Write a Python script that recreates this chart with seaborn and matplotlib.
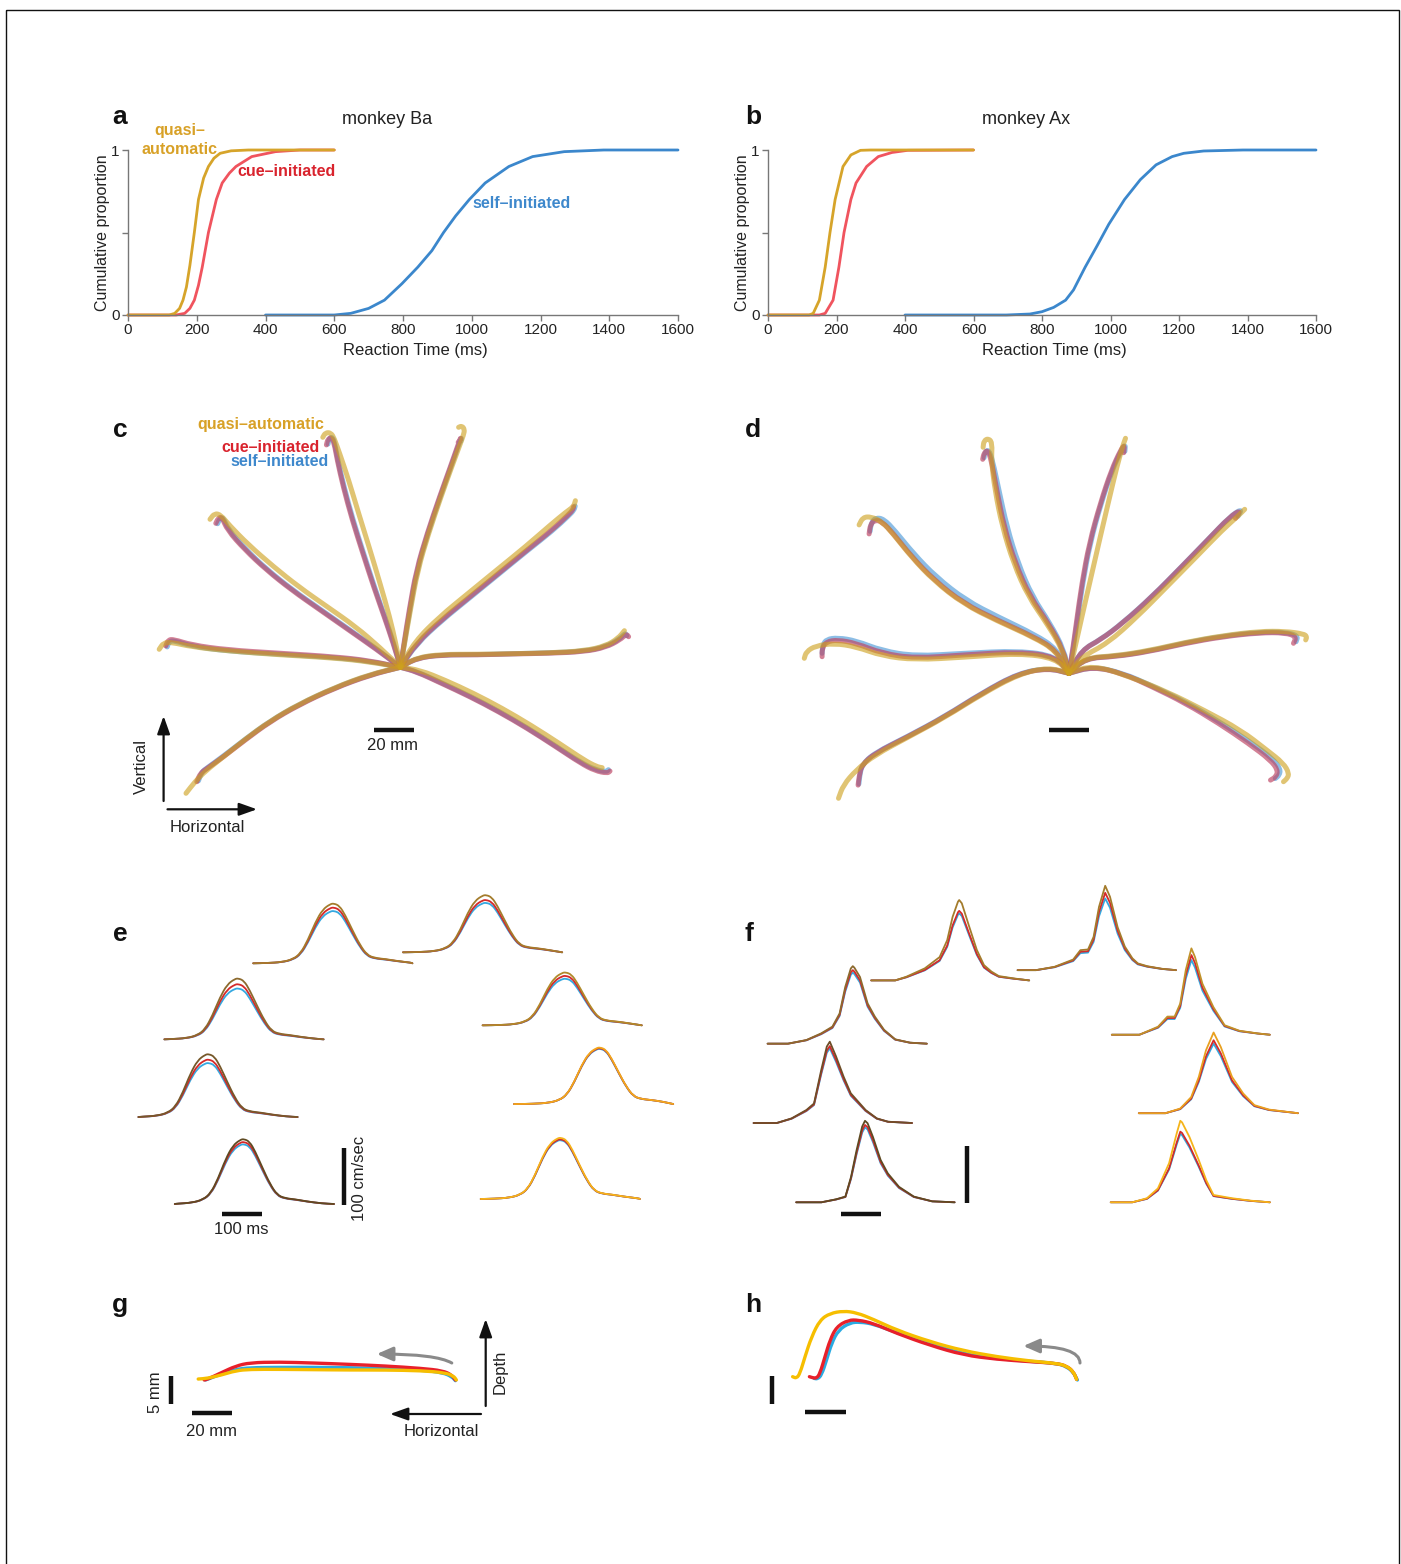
import numpy as np
import pandas as pd
import matplotlib
matplotlib.use("Agg")
import matplotlib.pyplot as plt
import seaborn as sns
from matplotlib.patches import Rectangle, PathPatch
from matplotlib.path import Path

sns.set_theme(style="ticks")
plt.rcParams['font.family'] = ['Liberation Sans', 'DejaVu Sans']

W, H = 1401, 1564
fig = plt.figure(figsize=(W / 100, H / 100), dpi=100)

# ------------------------------------------------------------------ colours
COL_Q, COL_C, COL_S = "#D6A42A", "#F0545E", "#3B87CC"          # RT curves
TXT_Q, TXT_C, TXT_S = "#D8A127", "#D9232D", "#3E88CC"          # labels
TRJ_Q, TRJ_C, TRJ_S = "#CDA01E", "#BE4664", "#5BA2DB"          # hand paths
VEL_C, VEL_S = "#D42A2A", "#35A8E0"
SIDE_Q, SIDE_C, SIDE_S = "#F6BE00", "#E8202A", "#2AAAE2"

# ------------------------------------------------- (a,b) reaction times (ms)
a_quasi_rt = [0, 120, 136, 150, 160, 170, 180, 193, 205, 220, 234, 250, 268, 300, 350, 600]
a_quasi_p = [0, 0, 0.01, 0.04, 0.09, 0.17, 0.30, 0.50, 0.70, 0.83, 0.90, 0.95, 0.98, 0.995, 1, 1]
a_cue_rt = [0, 140, 165, 180, 193, 205, 216, 234, 257, 274, 295, 314, 360, 429, 500, 600]
a_cue_p = [0, 0, 0.01, 0.04, 0.09, 0.18, 0.29, 0.50, 0.70, 0.80, 0.86, 0.90, 0.96, 0.99, 1, 1]
a_self_rt = [400, 600, 648, 700, 746, 797, 843, 884, 918, 953, 993, 1039, 1108, 1177, 1269, 1384, 1600]
a_self_p = [0, 0, 0.01, 0.04, 0.09, 0.19, 0.29, 0.39, 0.50, 0.60, 0.70, 0.80, 0.90, 0.96, 0.99, 1, 1]

b_quasi_rt = [0, 120, 132, 150, 167, 181, 196, 219, 242, 270, 300, 600]
b_quasi_p = [0, 0, 0.01, 0.09, 0.29, 0.50, 0.70, 0.90, 0.97, 0.998, 1, 1]
b_cue_rt = [0, 150, 167, 190, 207, 222, 242, 257, 288, 322, 362, 408, 600]
b_cue_p = [0, 0, 0.01, 0.09, 0.29, 0.50, 0.70, 0.80, 0.90, 0.96, 0.985, 0.998, 1]
b_self_rt = [400, 696, 765, 800, 834, 869, 892, 926, 961, 995, 1041, 1087, 1133, 1180, 1214, 1272, 1387, 1600]
b_self_p = [0, 0, 0.006, 0.02, 0.046, 0.09, 0.152, 0.29, 0.42, 0.55, 0.70, 0.82, 0.91, 0.96, 0.98, 0.994, 1, 1]

rt_ticks = list(range(0, 1601, 200))

# ------------------------------------------ (c,d) hand paths, top view (mm)
c_quasi = {
    "N1": [(0, 0), (-2.3, 12.0), (-5.4, 25.3), (-10.2, 42.0), (-15.2, 58.7), (-20.9, 77.0), (-25.9, 93.7), (-30.4, 107.0), (-33.1, 114.5), (-34.8, 117.3), (-37.5, 117.3), (-38.8, 115.0)],
    "N2": [(0, 0), (2.1, 12.0), (5.0, 28.7), (8.7, 48.7), (14.1, 67.0), (20.3, 85.3), (25.7, 100.3), (29.4, 110.3), (31.6, 116.2), (32.1, 119.0), (30.7, 120.7), (29.1, 120.0)],
    "NE": [(0, 0), (7.1, 12.8), (19.6, 25.3), (33.9, 37.0), (48.2, 48.7), (62.5, 60.3), (75.0, 71.2), (83.0, 77.8), (86.6, 80.3), (87.5, 83.3)],
    "E": [(0, 0), (8.0, 4.8), (20.5, 6.5), (38.4, 6.5), (56.2, 6.8), (74.1, 7.2), (91.9, 8.2), (102.7, 10.7), (108.9, 14.5), (112.0, 18.3)],
    "SE": [(0, 0), (9.8, -1.4), (22.3, -6.4), (36.6, -13.0), (50.9, -20.5), (65.2, -28.9), (79.4, -38.0), (91.9, -46.4), (98.2, -49.7), (100.9, -50.2)],
    "SW": [(0, 0), (-15.2, -3.5), (-33.1, -10.2), (-50.9, -18.5), (-65.2, -26.9), (-77.7, -36.0), (-88.4, -44.7), (-97.3, -51.7), (-102.7, -57.2), (-107.2, -63.0)],
    "W": [(0, 0), (-15.2, 2.7), (-33.1, 4.7), (-59.8, 6.2), (-86.6, 8.2), (-104.5, 10.3), (-114.3, 12.5), (-118.4, 12.3), (-120.6, 9.0)],
    "NW": [(0, 0), (-9.8, 9.5), (-22.3, 20.3), (-36.6, 30.3), (-50.9, 40.3), (-63.4, 50.3), (-75.9, 61.2), (-85.7, 71.2), (-89.8, 76.2), (-92.9, 77.0), (-95.2, 74.0)],
}
c_cue = {
    "N1": [(0, 0), (-3.6, 12.0), (-8.1, 25.3), (-13.4, 40.3), (-18.8, 57.0), (-24.1, 73.7), (-28.6, 90.3), (-31.6, 103.7), (-33.1, 112.0), (-34.5, 115.0), (-36.3, 114.0), (-37.0, 111.2)],
    "N2": [(0, 0), (1.8, 12.0), (4.4, 28.7), (8.0, 48.7), (13.4, 67.0), (19.6, 85.3), (25.0, 100.3), (28.5, 110.3), (30.3, 115.3), (30.0, 113.7), (28.9, 112.5)],
    "NE": [(0, 0), (8.0, 12.0), (20.5, 23.7), (34.8, 35.3), (49.1, 47.0), (63.4, 58.7), (75.9, 68.7), (83.9, 76.2), (86.2, 78.7), (86.6, 80.3)],
    "E": [(0, 0), (8.0, 4.5), (20.5, 6.2), (38.4, 6.2), (56.2, 6.7), (74.1, 7.0), (91.9, 7.8), (102.7, 10.0), (109.8, 13.7), (113.0, 16.7), (114.1, 15.3)],
    "SE": [(0, 0), (8.0, -2.2), (20.5, -8.0), (34.8, -14.7), (49.1, -22.2), (63.4, -30.5), (77.7, -39.7), (90.2, -48.0), (97.3, -51.7), (103.5, -53.0), (104.8, -51.9)],
    "SW": [(0, 0), (-15.2, -3.9), (-33.1, -10.5), (-50.9, -18.9), (-65.2, -27.2), (-77.7, -36.4), (-88.4, -44.7), (-97.3, -51.0), (-100.0, -53.0), (-101.8, -57.2)],
    "W": [(0, 0), (-15.2, 3.3), (-33.1, 5.3), (-59.8, 7.0), (-86.6, 8.7), (-104.5, 11.2), (-113.4, 14.0), (-116.1, 13.7), (-117.3, 10.7)],
    "NW": [(0, 0), (-11.6, 8.7), (-25.9, 18.7), (-40.2, 28.7), (-54.5, 38.7), (-67.0, 48.7), (-77.7, 58.7), (-86.6, 68.7), (-89.3, 75.3), (-91.1, 74.5), (-92.3, 72.0)],
}
c_self = {
    "N1": [(0, 0), (-3.3, 12.0), (-7.8, 25.3), (-13.0, 40.3), (-18.4, 57.0), (-23.7, 73.7), (-28.2, 90.3), (-31.3, 103.7), (-32.8, 112.0), (-34.0, 115.2), (-35.6, 114.4), (-36.2, 111.6)],
    "N2": [(0, 0), (2.0, 12.0), (4.7, 28.7), (8.3, 48.7), (13.7, 67.0), (19.9, 85.3), (25.3, 100.3), (28.8, 110.3), (30.6, 115.0), (30.4, 113.4), (29.4, 112.3)],
    "NE": [(0, 0), (8.2, 11.8), (20.7, 23.4), (35.0, 35.0), (49.3, 46.7), (63.6, 58.4), (76.2, 68.4), (84.3, 75.9), (86.8, 78.6), (87.4, 80.6)],
    "E": [(0, 0), (8.0, 4.6), (20.5, 6.3), (38.4, 6.3), (56.2, 6.8), (74.1, 7.2), (91.9, 8.0), (102.5, 10.3), (109.4, 14.0), (112.4, 17.2), (113.2, 15.8)],
    "SE": [(0, 0), (8.0, -2.0), (20.5, -7.7), (34.8, -14.4), (49.1, -21.9), (63.4, -30.2), (77.7, -39.4), (90.2, -47.6), (97.5, -51.2), (103.0, -52.3), (104.0, -51.2)],
    "SW": [(0, 0), (-15.2, -3.7), (-33.1, -10.3), (-50.9, -18.6), (-65.2, -26.9), (-77.7, -36.0), (-88.4, -44.3), (-96.8, -50.4), (-99.2, -52.2), (-101.0, -56.8)],
    "W": [(0, 0), (-15.2, 3.0), (-33.1, 4.9), (-59.8, 6.5), (-86.6, 8.1), (-104.5, 10.6), (-113.0, 13.3), (-115.6, 13.0), (-116.6, 10.2)],
    "NW": [(0, 0), (-11.4, 8.9), (-25.6, 18.9), (-39.9, 28.9), (-54.2, 38.9), (-66.7, 48.9), (-77.3, 58.9), (-86.1, 68.9), (-88.6, 75.0), (-90.3, 74.3), (-91.4, 71.8)],
}

d_quasi = {
    "NNW": [(0, 0), (-3.1, 11.7), (-11.1, 25.0), (-20.3, 38.3), (-27.7, 55.0), (-33.3, 73.3), (-37.0, 91.7), (-38.8, 106.7), (-38.3, 115.0), (-40.1, 117.5), (-42.5, 116.3), (-42.9, 113.0)],
    "NNE": [(0, 0), (2.8, 11.7), (6.5, 28.3), (11.1, 48.3), (15.7, 68.3), (20.4, 88.3), (24.0, 103.3), (26.8, 113.3), (28.3, 117.5)],
    "NE": [(0, 0), (6.5, 8.3), (19.4, 15.0), (34.2, 28.3), (49.0, 43.3), (63.8, 58.3), (76.8, 71.7), (84.2, 78.3), (87.9, 82.0)],
    "E": [(0, 0), (8.3, 7.8), (23.1, 8.7), (39.8, 11.3), (58.3, 15.5), (76.8, 18.8), (95.3, 21.0), (108.2, 21.0), (117.5, 19.7), (119.0, 18.3), (118.4, 16.7)],
    "SE": [(0, 0), (12.0, 4.2), (30.5, -1.7), (49.0, -9.2), (67.5, -18.4), (86.0, -28.4), (99.0, -38.4), (107.3, -45.0), (110.1, -50.0), (109.2, -52.5), (107.3, -54.2)],
    "SW": [(0, 0), (-10.2, 3.0), (-25.0, -0.4), (-43.5, -10.4), (-62.0, -22.0), (-80.5, -32.0), (-97.1, -40.9), (-106.4, -48.4), (-112.8, -55.9), (-115.2, -62.5)],
    "W": [(0, 0), (-6.5, 7.5), (-25.0, 10.0), (-52.7, 8.0), (-76.8, 6.7), (-93.4, 8.7), (-106.4, 13.3), (-117.5, 15.0), (-126.7, 13.7), (-131.3, 10.8), (-132.3, 7.5)],
    "NW": [(0, 0), (-6.5, 11.3), (-17.6, 18.0), (-36.1, 26.3), (-52.7, 34.7), (-67.5, 46.3), (-78.6, 58.0), (-87.9, 69.7), (-93.4, 75.8), (-98.9, 78.3), (-103.0, 78.0), (-104.9, 74.2)],
}
d_cue = {
    "NNW": [(0, 0), (-2.8, 11.7), (-10.2, 25.0), (-19.4, 38.3), (-26.8, 55.0), (-32.4, 73.3), (-36.1, 91.7), (-38.8, 106.7), (-40.7, 111.7), (-42.5, 110.0), (-43.1, 107.0)],
    "NNE": [(0, 0), (1.9, 11.7), (3.7, 25.0), (6.5, 45.0), (10.2, 65.0), (15.7, 85.0), (21.3, 101.7), (25.9, 111.7), (27.8, 114.2), (27.4, 110.3)],
    "NE": [(0, 0), (6.5, 11.7), (15.7, 16.7), (26.8, 25.0), (41.6, 38.3), (56.4, 53.3), (69.4, 66.7), (80.5, 78.3), (86.0, 81.7), (83.3, 77.5)],
    "E": [(0, 0), (8.3, 7.5), (23.1, 8.3), (39.8, 10.8), (58.3, 15.0), (76.8, 18.3), (95.3, 20.3), (108.2, 20.3), (113.8, 18.3), (112.3, 15.0)],
    "SE": [(0, 0), (12.0, 3.3), (26.8, 0.0), (41.6, -6.7), (58.3, -15.0), (74.9, -25.0), (89.7, -35.0), (100.8, -43.4), (104.5, -48.4), (103.6, -51.7), (100.8, -53.4)],
    "SW": [(0, 0), (-10.2, 2.5), (-25.0, 0.0), (-43.5, -10.0), (-62.0, -21.7), (-80.5, -31.7), (-97.1, -40.0), (-103.6, -45.9), (-104.9, -51.7), (-105.4, -55.9)],
    "W": [(0, 0), (-6.5, 8.3), (-25.0, 10.8), (-52.7, 9.2), (-76.8, 7.5), (-93.4, 10.0), (-106.4, 15.0), (-115.6, 16.7), (-121.2, 15.8), (-123.4, 12.5), (-123.4, 8.3)],
    "NW": [(0, 0), (-6.5, 11.7), (-17.6, 18.3), (-36.1, 26.7), (-52.7, 35.0), (-67.5, 46.7), (-78.6, 58.3), (-87.9, 70.0), (-93.4, 75.8), (-97.1, 76.7), (-99.3, 74.2), (-99.9, 69.7)],
}
d_self = {
    "NNW": [(0, 0), (-2.4, 11.7), (-9.4, 25.0), (-18.2, 38.3), (-25.4, 55.0), (-31.0, 73.3), (-35.0, 91.7), (-38.2, 106.7), (-40.2, 111.9), (-41.9, 110.6), (-42.4, 107.8)],
    "NNE": [(0, 0), (2.1, 11.7), (4.0, 25.0), (6.9, 45.0), (10.6, 65.0), (16.1, 85.0), (21.7, 101.7), (26.3, 111.7), (28.3, 114.6), (28.0, 111.0)],
    "NE": [(0, 0), (6.6, 11.8), (15.9, 16.9), (27.0, 25.3), (41.8, 38.6), (56.6, 53.6), (69.6, 67.0), (80.8, 78.6), (86.6, 82.3), (84.5, 78.5)],
    "E": [(0, 0), (8.3, 7.6), (23.1, 8.5), (39.8, 11.0), (58.3, 15.3), (76.8, 18.6), (95.3, 20.6), (108.2, 20.6), (114.6, 18.8), (113.6, 15.8)],
    "SE": [(0, 0), (12.0, 3.4), (26.8, 0.2), (41.6, -6.3), (58.3, -14.3), (75.4, -24.3), (90.6, -34.3), (102.0, -42.7), (105.8, -47.9), (105.2, -51.0), (103.2, -52.6)],
    "SW": [(0, 0), (-10.2, 2.6), (-25.0, 0.2), (-43.5, -9.8), (-62.0, -21.5), (-80.5, -31.5), (-97.1, -39.8), (-103.4, -45.6), (-104.6, -51.3), (-105.0, -55.3)],
    "W": [(0, 0), (-6.5, 8.6), (-25.0, 11.3), (-52.7, 10.0), (-76.8, 8.6), (-93.4, 11.3), (-106.4, 16.3), (-115.6, 17.8), (-121.2, 17.0), (-123.0, 14.2), (-123.4, 10.0)],
    "NW": [(0, 0), (-6.0, 12.2), (-16.8, 19.3), (-35.0, 28.0), (-51.5, 36.5), (-66.4, 48.2), (-77.6, 59.8), (-87.0, 71.4), (-92.6, 77.2), (-96.6, 77.8), (-98.8, 75.3), (-99.4, 71.0)],
}

# --------------------------------------------- (e) hand speed profiles
# common profile (time re. peak, ms; fraction of peak speed)
e_shape_t = [-204, -167, -130, -102, -83, -65, -46, -28, -9, 0, 14, 28, 46, 65, 83, 102, 130, 157, 194]
e_shape_v = [0, 0.005, 0.02, 0.07, 0.17, 0.39, 0.69, 0.90, 0.99, 1, 0.96, 0.81, 0.56, 0.31, 0.14, 0.09, 0.07, 0.04, 0.01]
e_quasi_peak = [105, 100.6, 107, 93, 110.5, 99.4, 114, 107.6]      # cm/s
e_cue_peak = [98, 92, 97, 87, 101, 98.2, 109, 105]
e_self_peak = [92, 87, 89.5, 82, 95, 97.1, 105, 103.5]
e_quasi_cols = ["#A47C2C", "#A47C2C", "#8C6A2E", "#B08A2A", "#76582A", "#F2A81C", "#5E4A22", "#F5B41A"]

# --------------------------------------------- (f) hand speed profiles
f_shape_t = [
    [0, 60, 88, 134, 171, 190, 203.5, 217, 220, 226.5, 245, 264, 282, 300.6, 319, 356, 395],
    [0, 46, 92.5, 139, 157, 176, 190, 203.5, 219, 231, 250, 268, 287, 300.6, 324, 361, 396],
    [0, 51, 97, 134, 162, 180, 194, 208, 213, 217, 231, 250, 268, 291, 319, 356, 398],
    [0, 69, 115.6, 139, 157, 171, 185, 199, 208, 226.6, 254, 282, 319, 365, 395],
    [0, 58, 95, 132, 151, 169, 183, 190.5, 206, 225, 243, 262, 280, 308, 336, 396],
    [0, 66.6, 103.6, 131, 150, 168, 187, 205, 233, 261, 289, 325.6, 398],
    [0, 63, 100, 123, 137, 151, 165, 172, 178.5, 192, 211, 229, 257, 294, 340, 396],
    [0, 54, 90.6, 118, 146, 165, 174, 178.5, 197, 220, 239, 257, 303, 350, 398],
]
f_shape_v = [
    [0, 0, 0.046, 0.15, 0.29, 0.50, 0.79, 0.98, 1, 0.96, 0.67, 0.38, 0.19, 0.11, 0.054, 0.025, 0],
    [0, 0, 0.04, 0.126, 0.237, 0.245, 0.395, 0.75, 1, 0.87, 0.51, 0.28, 0.14, 0.08, 0.047, 0.016, 0],
    [0, 0, 0.047, 0.133, 0.22, 0.39, 0.73, 0.97, 1, 0.98, 0.86, 0.52, 0.35, 0.18, 0.056, 0.013, 0],
    [0, 0, 0.093, 0.21, 0.21, 0.36, 0.75, 1, 0.90, 0.59, 0.32, 0.11, 0.046, 0.015, 0],
    [0, 0, 0.057, 0.16, 0.24, 0.65, 0.94, 1, 0.82, 0.57, 0.365, 0.26, 0.16, 0.057, 0.016, 0],
    [0, 0, 0.058, 0.20, 0.45, 0.78, 1, 0.82, 0.45, 0.244, 0.10, 0.045, 0],
    [0, 0, 0.037, 0.07, 0.31, 0.64, 0.93, 1, 0.97, 0.80, 0.52, 0.355, 0.19, 0.07, 0.012, 0],
    [0, 0, 0.05, 0.17, 0.48, 0.845, 1, 0.98, 0.80, 0.52, 0.27, 0.09, 0.05, 0.02, 0],
]
f_quasi_peak = [141, 148, 136, 151.5, 142.7, 141.6, 143, 143]
f_cue_peak = [122, 135.7, 129, 139.8, 135, 128, 135.7, 124]
f_self_peak = [117.6, 125.8, 124.6, 131, 131, 122, 131.6, 120]
f_quasi_cols = ["#A47C2C", "#A47C2C", "#8C6A2E", "#C0922A", "#6E4E28", "#E8A020", "#5E4A22", "#F5B41A"]

# --------------------------------------------- (g,h) side view (mm)
g_quasi = [(173.2, 14.29), (171.8, 15.0), (167.3, 15.6), (155.7, 15.95), (137.9, 16.07), (120.0, 16.07), (102.1, 16.13), (84.3, 16.19), (70.0, 16.19), (62.9, 15.95), (55.7, 15.18), (48.6, 14.58), (44.1, 14.46)]
g_cue = [(172.7, 14.29), (170.9, 15.18), (166.4, 15.95), (155.7, 16.37), (137.9, 16.79), (120.0, 17.08), (102.1, 17.32), (84.3, 17.5), (70.0, 17.38), (62.9, 16.79), (55.7, 15.6), (48.6, 14.4), (47.1, 14.29)]
g_self = [(172.7, 14.17), (170.9, 14.88), (166.4, 15.6), (155.7, 16.07), (137.9, 16.31), (120.0, 16.49), (102.1, 16.55), (84.3, 16.55), (70.0, 16.49), (62.9, 16.19), (55.7, 15.36), (48.6, 14.4), (47.7, 14.29)]

h_quasi = [(168.3, 14.4), (166.7, 15.77), (163.3, 16.79), (158.3, 17.26), (145.0, 17.68), (128.3, 18.45), (111.7, 19.52), (95.0, 21.13), (78.3, 23.21), (66.7, 25.12), (58.3, 26.31), (51.7, 26.61), (45.0, 26.19), (40.0, 25.0), (35.8, 22.02), (32.5, 18.45), (30.0, 15.48), (28.3, 14.58), (26.3, 14.88)]
h_cue = [(168.3, 14.4), (166.7, 15.77), (163.3, 16.79), (158.3, 17.26), (145.0, 17.56), (128.3, 17.98), (111.7, 18.75), (95.0, 20.48), (78.3, 22.62), (66.7, 24.4), (59.2, 25.0), (54.2, 25.0), (48.3, 23.81), (45.0, 21.43), (42.5, 18.45), (40.0, 15.48), (38.3, 14.58), (36.3, 14.7), (34.7, 14.88)]
h_self = [(168.7, 14.29), (166.7, 15.65), (163.3, 16.67), (158.3, 17.26), (145.0, 17.62), (128.3, 18.1), (111.7, 18.93), (95.0, 20.71), (78.3, 22.74), (66.7, 24.29), (60.0, 24.64), (55.0, 24.52), (49.2, 23.21), (45.8, 20.83), (43.3, 17.86), (40.8, 15.18), (38.8, 14.46), (37.0, 14.58)]


# ================================================================ helpers
def px_axes(x0, y0, x1, y1):
    ax = fig.add_axes([x0 / W, 1 - y1 / H, (x1 - x0) / W, (y1 - y0) / H])
    ax.set_facecolor("none")
    return ax


def bare(ax):
    ax.set_axis_off()


def ftext(x, y, s, **kw):
    fig.text(x / W, 1 - y / H, s, **kw)


def panel_label(x, y, s):
    ftext(x, y, s, fontsize=19, fontweight="bold", ha="center", va="baseline", color="#111111")


def smooth_path(pts):
    """Quadratic-spline path that uses the sampled points as control points."""
    p = np.asarray(pts, float)
    verts, codes = [p[0]], [Path.MOVETO]
    if len(p) > 2:
        verts.append((p[0] + p[1]) / 2)
        codes.append(Path.LINETO)
        for i in range(1, len(p) - 1):
            verts += [p[i], (p[i] + p[i + 1]) / 2]
            codes += [Path.CURVE3, Path.CURVE3]
    verts.append(p[-1])
    codes.append(Path.LINETO)
    return Path(verts, codes)


def draw_path(ax, pts, color, lw, alpha=1.0):
    patch = PathPatch(smooth_path(pts), facecolor="none", edgecolor=color, lw=lw,
                      alpha=alpha, capstyle="round", joinstyle="round")
    ax.add_patch(patch)


# ================================================================ (a), (b)
def rt_panel(ax, curves, title, tx):
    rows = []
    for name, rt, p in curves:
        rows.append(pd.DataFrame({"rt": rt, "p": p, "cond": name}))
    df = pd.concat(rows, ignore_index=True)
    sns.lineplot(data=df, x="rt", y="p", hue="cond",
                 palette={"self": COL_S, "cue": COL_C, "quasi": COL_Q},
                 hue_order=["self", "cue", "quasi"], estimator=None, sort=False,
                 lw=2.0, legend=False, ax=ax)
    for ln in ax.lines:
        ln.set_clip_on(False)
        ln.set_solid_joinstyle("round")
    ax.set_xlim(0, 1600)
    ax.set_ylim(0, 1)
    ax.set_xticks(rt_ticks)
    ax.set_yticks([0, 0.5, 1])
    ax.set_yticklabels(["0", "", "1"])
    sns.despine(ax=ax)
    for s in ("left", "bottom"):
        ax.spines[s].set_color("#777777")
        ax.spines[s].set_linewidth(1.0)
    ax.tick_params(direction="out", length=4, width=1, color="#777777",
                   labelsize=11, labelcolor="#222222", pad=2)
    ax.set_xlabel("Reaction Time (ms)", fontsize=12, color="#222222", labelpad=4, x=0.522)
    ax.set_ylabel("Cumulative proportion", fontsize=11.5, color="#222222", labelpad=1)
    ftext(tx, 119, title, fontsize=13, ha="center", va="center", color="#222222")


ax_a = px_axes(128, 150, 678, 315)
rt_panel(ax_a, [("self", a_self_rt, a_self_p), ("cue", a_cue_rt, a_cue_p),
                ("quasi", a_quasi_rt, a_quasi_p)], "monkey Ba", 387)
ax_b = px_axes(768, 150, 1316, 315)
rt_panel(ax_b, [("self", b_self_rt, b_self_p), ("cue", b_cue_rt, b_cue_p),
                ("quasi", b_quasi_rt, b_quasi_p)], "monkey Ax", 1026)

bold = dict(fontsize=11.5, fontweight="bold", va="center")
ftext(180, 131, "quasi–", color=TXT_Q, ha="center", **bold)
ftext(180, 150, "automatic", color=TXT_Q, ha="center", **bold)
ftext(286, 172, "cue–initiated", color=TXT_C, ha="center", **bold)
ftext(522, 204, "self–initiated", color=TXT_S, ha="center", **bold)


# ================================================================ (c), (d)
def top_view(ax, quasi, cue, selfi):
    for paths, col, a in ((selfi, TRJ_S, 0.70), (cue, TRJ_C, 0.68), (quasi, TRJ_Q, 0.62)):
        for pts in paths.values():
            draw_path(ax, pts, col, 3.6, a)


ax_c = px_axes(120, 410, 700, 860)
top_view(ax_c, c_quasi, c_cue, c_self)
ax_c.plot([-13.4, 6.6], [-31.4, -31.4], color="#111111", lw=3.2, solid_capstyle="butt")
ax_c.set_xlim(-140.2, 149.8)
ax_c.set_ylim(-96.35, 128.65)
bare(ax_c)

ax_d = px_axes(740, 410, 1340, 860)
top_view(ax_d, d_quasi, d_cue, d_self)
ax_d.plot([-10.15, 9.8], [-28.4, -28.4], color="#111111", lw=3.2, solid_capstyle="butt")
ax_d.set_xlim(-164.45, 135.55)
ax_d.set_ylim(-93.35, 131.65)
bare(ax_d)

ftext(392, 745, "20 mm", fontsize=12, ha="center", va="center", color="#222222")
ftext(324, 425, "quasi–automatic", color=TXT_Q, ha="right", **bold)
ftext(320, 447, "cue–initiated", color=TXT_C, ha="right", **bold)
ftext(329, 461, "self–initiated", color=TXT_S, ha="right", **bold)


# ================================================================ (e), (f)
e_start = [383, 757.5, 161, 956.5, 96, 1035, 187, 951.75]
e_peak_at = [584.7, 965.5, 346, 1164.5, 272, 1250.5, 360, 1152.5]
e_base = [503, 522.3, 369.6, 394.2, 233.3, 256.1, 80.7, 89.5]
f_start = [353, 719, 94, 954.5, 59, 1022, 165.5, 951.75]
f_base = [473, 491, 362, 377.7, 222.8, 240, 83.7, 83.7]
TRACE_LEN = 398


def e_trace(i, peak):
    t = [e_start[i]]
    v = [e_base[i]]
    for rt, rv in zip(e_shape_t, e_shape_v):
        tt = e_peak_at[i] + rt
        if e_start[i] < tt < e_start[i] + TRACE_LEN:
            t.append(tt)
            v.append(e_base[i] + rv * peak)
    t.append(e_start[i] + TRACE_LEN)
    v.append(e_base[i])
    return t, v


def f_trace(i, peak):
    t = [f_start[i] + s for s in f_shape_t[i]]
    v = [f_base[i] + s * peak for s in f_shape_v[i]]
    return t, v


def finish_speed_axes(ax):
    ax.set_xlim(0, 1500)
    ax.set_ylim(0, 666.7)
    bare(ax)


# (e): smooth bell-shaped profiles
ax_e = px_axes(100, 870, 700, 1250)
for i in range(len(e_quasi_peak)):
    for pk, col in ((e_self_peak[i], VEL_S), (e_cue_peak[i], VEL_C), (e_quasi_peak[i], e_quasi_cols[i])):
        t, v = e_trace(i, pk)
        draw_path(ax_e, list(zip(t, v)), col, 1.3)
finish_speed_axes(ax_e)
ax_e.plot([304, 404], [63, 63], color="#111111", lw=3.2, solid_capstyle="butt")
ax_e.plot([609.5, 609.5], [79, 179], color="#111111", lw=3.2, solid_capstyle="butt")
ftext(241, 1230, "100 ms", fontsize=12, ha="center", va="center", color="#222222")
ftext(359, 1178, "100 cm/sec", fontsize=12, ha="center", va="center", rotation=90, color="#222222")

# (f): sharper profiles, drawn through seaborn
ax_f = px_axes(730, 870, 1330, 1250)
for peaks, col in ((f_self_peak, VEL_S), (f_cue_peak, VEL_C)):
    rows = []
    for i, pk in enumerate(peaks):
        t, v = f_trace(i, pk)
        rows.append(pd.DataFrame({"t": t, "v": v, "trace": i}))
    sns.lineplot(data=pd.concat(rows, ignore_index=True), x="t", y="v", units="trace",
                 estimator=None, sort=False, color=col, lw=1.3, legend=False, ax=ax_f)
rows = []
for i, pk in enumerate(f_quasi_peak):
    t, v = f_trace(i, pk)
    rows.append(pd.DataFrame({"t": t, "v": v, "trace": i}))
sns.lineplot(data=pd.concat(rows, ignore_index=True), x="t", y="v", hue="trace",
             palette=f_quasi_cols, estimator=None, sort=False, lw=1.3, legend=False, ax=ax_f)
for ln in ax_f.lines:
    ln.set_solid_joinstyle("round")
finish_speed_axes(ax_f)
ax_f.plot([277.5, 377.5], [62.6, 62.6], color="#111111", lw=3.2, solid_capstyle="butt")
ax_f.plot([592, 592], [82.5, 182.5], color="#111111", lw=3.2, solid_capstyle="butt")


# ================================================================ (g), (h)
def side_view(ax, quasi, cue, selfi):
    for pts, col in ((selfi, SIDE_S), (cue, SIDE_C), (quasi, SIDE_Q)):
        draw_path(ax, pts, col, 2.4)
    ax.set_ylim(0, 30.36)
    bare(ax)


ax_g = px_axes(110, 1290, 700, 1460)
side_view(ax_g, g_quasi, g_cue, g_self)
ax_g.set_xlim(0, 295)
ax_g.plot([30.7, 30.7], [10, 15], color="#111111", lw=3.2, solid_capstyle="butt")
ax_g.plot([41, 61], [8.45, 8.45], color="#111111", lw=3.2, solid_capstyle="butt")
ftext(155, 1392, "5 mm", fontsize=12, ha="center", va="center", rotation=90, color="#222222")
ftext(211, 1431, "20 mm", fontsize=12, ha="center", va="center", color="#222222")
ftext(441, 1432, "Horizontal", fontsize=12, ha="center", va="center", color="#222222")
ftext(500, 1372, "Depth", fontsize=12, ha="center", va="center", rotation=90, color="#222222")

ax_h = px_axes(740, 1290, 1290, 1460)
side_view(ax_h, h_quasi, h_cue, h_self)
ax_h.set_xlim(0, 275)
ax_h.plot([15.85, 15.85], [10, 15.05], color="#111111", lw=3.2, solid_capstyle="butt")
ax_h.plot([32.65, 52.85], [8.5, 8.5], color="#111111", lw=3.2, solid_capstyle="butt")

# ================================================================ overlay
ov = fig.add_axes([0, 0, 1, 1])
ov.set_facecolor("none")
ov.set_xlim(0, W)
ov.set_ylim(H, 0)
ov.set_axis_off()
ov.add_patch(Rectangle((5.5, 9.5), 1393.5, 1600, fill=False, edgecolor="#111111", lw=1.0))

black_arrow = dict(arrowstyle="-|>,head_length=0.9,head_width=0.32", color="#111111", lw=1.6,
                   shrinkA=0, shrinkB=0)
ov.annotate("", xy=(163.6, 716), xytext=(163.6, 801), arrowprops=black_arrow)
ov.annotate("", xy=(257, 809.3), xytext=(167.5, 809.3), arrowprops=black_arrow)
ftext(141.5, 767, "Vertical", fontsize=12, ha="center", va="center", rotation=90, color="#222222")
ftext(207, 828, "Horizontal", fontsize=12, ha="center", va="center", color="#222222")

ov.annotate("", xy=(485.7, 1319), xytext=(485.7, 1406), arrowprops=black_arrow)
ov.annotate("", xy=(390, 1414), xytext=(481, 1414), arrowprops=black_arrow)

gray_arrow = dict(arrowstyle="-|>,head_length=0.8,head_width=0.35", color="#8A8A8A", lw=2.2,
                  shrinkA=0, shrinkB=0)
ov.annotate("", xy=(376.8, 1354), xytext=(451.8, 1363),
            arrowprops=dict(connectionstyle="angle3,angleA=150,angleB=180", **gray_arrow))
ov.annotate("", xy=(1023.3, 1346), xytext=(1080, 1363),
            arrowprops=dict(connectionstyle="angle3,angleA=90,angleB=180", **gray_arrow))

panel_label(120, 124, "a")
panel_label(753, 124, "b")
panel_label(120, 437, "c")
panel_label(753, 437, "d")
panel_label(120, 941, "e")
panel_label(749, 941, "f")
panel_label(120, 1312, "g")
panel_label(753, 1312, "h")

fig.savefig("out.png", dpi=100, facecolor="white")
